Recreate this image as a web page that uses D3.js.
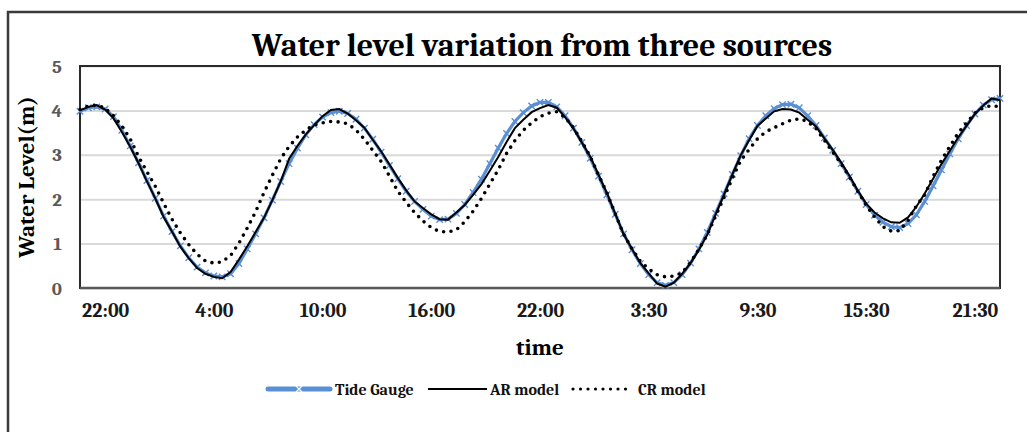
<!DOCTYPE html>
<html>
<head>
<meta charset="utf-8">
<script src="https://cdn.jsdelivr.net/npm/d3@7"></script>
<style>
  body { margin: 0; background: #fff; }
  svg text { font-family: Cambria, "Liberation Serif", "DejaVu Serif", serif; font-weight: bold; }
</style>
</head>
<body>
<div id="chart"></div>
<script>
// tick labels sit on these sample indexes
var tickIndex = [3, 16, 29, 42, 55, 68, 81, 94, 107];
var tickLabels = ['22:00', '4:00', '10:00', '16:00', '22:00', '3:30', '9:30', '15:30', '21:30'];
var yTicks = [0, 1, 2, 3, 4, 5];

var tideGauge = [
  3.98, 4.06, 4.08, 4.03, 3.86, 3.55, 3.20, 2.82, 2.42, 2.02,
  1.62, 1.27, 0.95, 0.68, 0.47, 0.34, 0.27, 0.25, 0.32, 0.55,
  0.88, 1.22, 1.58, 1.98, 2.40, 2.80, 3.15, 3.45, 3.68, 3.85,
  3.95, 3.98, 3.93, 3.80, 3.60, 3.35, 3.06, 2.76, 2.46, 2.18,
  1.95, 1.77, 1.62, 1.54, 1.55, 1.68, 1.88, 2.15, 2.45, 2.80,
  3.15, 3.48, 3.75, 3.95, 4.10, 4.18, 4.18, 4.08, 3.88, 3.60,
  3.28, 2.92, 2.52, 2.10, 1.66, 1.22, 0.86, 0.55, 0.30, 0.12,
  0.06, 0.12, 0.30, 0.56, 0.88, 1.25, 1.68, 2.12, 2.56, 2.98,
  3.36, 3.66, 3.88, 4.04, 4.13, 4.14, 4.06, 3.88, 3.66, 3.38,
  3.10, 2.80, 2.50, 2.18, 1.88, 1.64, 1.48, 1.38, 1.36, 1.45,
  1.65, 1.95, 2.30, 2.66, 3.02, 3.36, 3.66, 3.92, 4.12, 4.24,
  4.27
];

var arModel = [
  4.00, 4.08, 4.12, 4.02, 3.82, 3.52, 3.18, 2.81, 2.40, 2.02,
  1.60, 1.27, 0.93, 0.67, 0.45, 0.32, 0.25, 0.22, 0.36, 0.64,
  0.94, 1.26, 1.58, 1.98, 2.40, 2.91, 3.20, 3.46, 3.67, 3.87,
  4.01, 4.03, 3.93, 3.78, 3.61, 3.34, 3.08, 2.78, 2.48, 2.20,
  1.95, 1.80, 1.66, 1.55, 1.54, 1.70, 1.87, 2.10, 2.34, 2.64,
  2.95, 3.29, 3.60, 3.79, 3.96, 4.05, 4.12, 4.06, 3.85, 3.59,
  3.28, 2.96, 2.55, 2.14, 1.67, 1.21, 0.88, 0.56, 0.33, 0.10,
  0.03, 0.12, 0.32, 0.56, 0.86, 1.20, 1.66, 2.10, 2.56, 2.99,
  3.33, 3.65, 3.82, 3.98, 4.03, 4.02, 3.95, 3.79, 3.64, 3.37,
  3.11, 2.83, 2.53, 2.19, 1.90, 1.70, 1.57, 1.48, 1.47, 1.59,
  1.83, 2.13, 2.46, 2.79, 3.09, 3.39, 3.65, 3.92, 4.11, 4.27,
  4.23
];

var crModel = [
  4.02, 4.10, 4.12, 4.05, 3.88, 3.65, 3.36, 2.96, 2.62, 2.29,
  1.91, 1.55, 1.24, 0.98, 0.76, 0.61, 0.56, 0.59, 0.73, 1.01,
  1.35, 1.72, 2.15, 2.54, 2.91, 3.19, 3.40, 3.56, 3.67, 3.72,
  3.75, 3.74, 3.70, 3.56, 3.35, 3.10, 2.85, 2.52, 2.18, 1.93,
  1.70, 1.51, 1.36, 1.27, 1.26, 1.31, 1.49, 1.73, 2.02, 2.34,
  2.66, 3.03, 3.32, 3.55, 3.72, 3.86, 3.94, 3.97, 3.84, 3.61,
  3.30, 2.96, 2.55, 2.14, 1.67, 1.21, 0.88, 0.60, 0.43, 0.30,
  0.25, 0.27, 0.34, 0.58, 0.87, 1.20, 1.62, 2.04, 2.47, 2.87,
  3.12, 3.36, 3.52, 3.61, 3.70, 3.78, 3.81, 3.75, 3.59, 3.33,
  3.06, 2.80, 2.50, 2.18, 1.86, 1.60, 1.38, 1.28, 1.29, 1.52,
  1.85, 2.10, 2.51, 2.88, 3.19, 3.49, 3.72, 3.94, 4.06, 4.11,
  4.08
];

var blue = '#5b8fd3';
var width = 1027, height = 432;
var margin = { top: 66, right: 27, bottom: 144, left: 80 };
var innerW = width - margin.left - margin.right;
var innerH = height - margin.top - margin.bottom;

var svg = d3.select('#chart').append('svg')
  .attr('width', width)
  .attr('height', height);

// outer chart frame (runs off the right and bottom edges)
svg.append('rect')
  .attr('x', 8).attr('y', 12)
  .attr('width', 1040).attr('height', 440)
  .attr('fill', 'none')
  .attr('stroke', '#3a3a3a')
  .attr('stroke-width', 2.5);

svg.append('text')
  .attr('x', 542).attr('y', 56)
  .attr('text-anchor', 'middle')
  .style('font-size', '32px')
  .attr('fill', '#000')
  .text('Water level variation from three sources');

var g = svg.append('g')
  .attr('transform', 'translate(' + margin.left + ',' + margin.top + ')');

var x = d3.scaleLinear().domain([0, tideGauge.length - 1]).range([0, innerW]);
var y = d3.scaleLinear().domain([0, 5]).range([innerH, 0]);

// gridlines
g.append('g')
  .call(d3.axisLeft(y).tickValues(yTicks).tickSize(-innerW).tickFormat(''))
  .call(function (s) {
    s.select('.domain').remove();
    s.selectAll('line').attr('stroke', '#d9d9d9').attr('stroke-width', 2);
  });

// y tick labels
g.append('g')
  .call(d3.axisLeft(y).tickValues(yTicks).tickSize(0).tickPadding(18).tickFormat(d3.format('d')))
  .call(function (s) {
    s.select('.domain').remove();
    s.selectAll('text')
      .attr('fill', '#595959')
      .style('font-size', '19px')
      .style('font-family', 'Cambria, "Liberation Serif", "DejaVu Serif", serif');
  });

// x tick labels
g.append('g')
  .attr('transform', 'translate(0,' + innerH + ')')
  .call(d3.axisBottom(x).tickValues(tickIndex).tickSize(0).tickPadding(15)
    .tickFormat(function (d, i) { return tickLabels[i]; }))
  .call(function (s) {
    s.select('.domain').remove();
    s.selectAll('text')
      .attr('fill', '#1a1a1a')
      .style('font-size', '20px')
      .style('font-family', 'Cambria, "Liberation Serif", "DejaVu Serif", serif');
  });

// plot area border
g.append('rect')
  .attr('width', innerW).attr('height', innerH)
  .attr('fill', 'none')
  .attr('stroke', '#2a2a2a')
  .attr('stroke-width', 2);
g.append('line')
  .attr('x1', 0).attr('x2', innerW)
  .attr('y1', y(0)).attr('y2', y(0))
  .attr('stroke', '#595959').attr('stroke-width', 2.5);

var line = d3.line()
  .x(function (d, i) { return x(i); })
  .y(function (d) { return y(d); });

// tide gauge
g.append('path')
  .attr('d', line(tideGauge))
  .attr('fill', 'none')
  .attr('stroke', blue)
  .attr('stroke-width', 3.2);

g.append('g').selectAll('path')
  .data(tideGauge)
  .enter().append('path')
  .attr('d', 'M-3.2,-3.2L3.2,3.2M-3.2,3.2L3.2,-3.2')
  .attr('transform', function (d, i) { return 'translate(' + x(i) + ',' + y(d) + ')'; })
  .attr('stroke', blue)
  .attr('stroke-width', 1.4);

// AR model
g.append('path')
  .attr('d', line(arModel))
  .attr('fill', 'none')
  .attr('stroke', '#000')
  .attr('stroke-width', 2);

// CR model
g.append('path')
  .attr('d', line(crModel))
  .attr('fill', 'none')
  .attr('stroke', '#000')
  .attr('stroke-width', 3.6)
  .attr('stroke-linecap', 'round')
  .attr('stroke-dasharray', '0 7.5');

// axis titles
svg.append('text')
  .attr('transform', 'translate(34,' + (margin.top + innerH / 2) + ') rotate(-90)')
  .attr('text-anchor', 'middle')
  .style('font-size', '23px')
  .attr('fill', '#000')
  .text('Water Level(m)');

svg.append('text')
  .attr('x', margin.left + innerW / 2).attr('y', 355)
  .attr('text-anchor', 'middle')
  .style('font-size', '23px')
  .attr('fill', '#000')
  .text('time');

// legend
var legend = svg.append('g').attr('transform', 'translate(0,389)');
var items = [
  { name: 'Tide Gauge', x0: 268, x1: 330, tx: 335 },
  { name: 'AR model', x0: 428, x1: 487, tx: 490 },
  { name: 'CR model', x0: 573, x1: 630, tx: 638 }
];

legend.append('line')
  .attr('x1', items[0].x0).attr('x2', items[0].x1)
  .attr('stroke', blue).attr('stroke-width', 5).attr('stroke-linecap', 'round');
legend.append('path')
  .attr('d', 'M-3,-3L3,3M-3,3L3,-3')
  .attr('transform', 'translate(' + (items[0].x0 + items[0].x1) / 2 + ',0)')
  .attr('stroke', '#fff').attr('stroke-width', 1.2);
legend.append('line')
  .attr('x1', items[1].x0).attr('x2', items[1].x1)
  .attr('stroke', '#000').attr('stroke-width', 2);
legend.append('line')
  .attr('x1', items[2].x0).attr('x2', items[2].x1)
  .attr('stroke', '#000').attr('stroke-width', 3.2)
  .attr('stroke-linecap', 'round').attr('stroke-dasharray', '0 7.5');

legend.selectAll('text.lbl')
  .data(items)
  .enter().append('text')
  .attr('class', 'lbl')
  .attr('x', function (d) { return d.tx; })
  .attr('dy', '0.35em')
  .style('font-size', '16px')
  .attr('fill', '#111')
  .text(function (d) { return d.name; });
</script>
</body>
</html>
